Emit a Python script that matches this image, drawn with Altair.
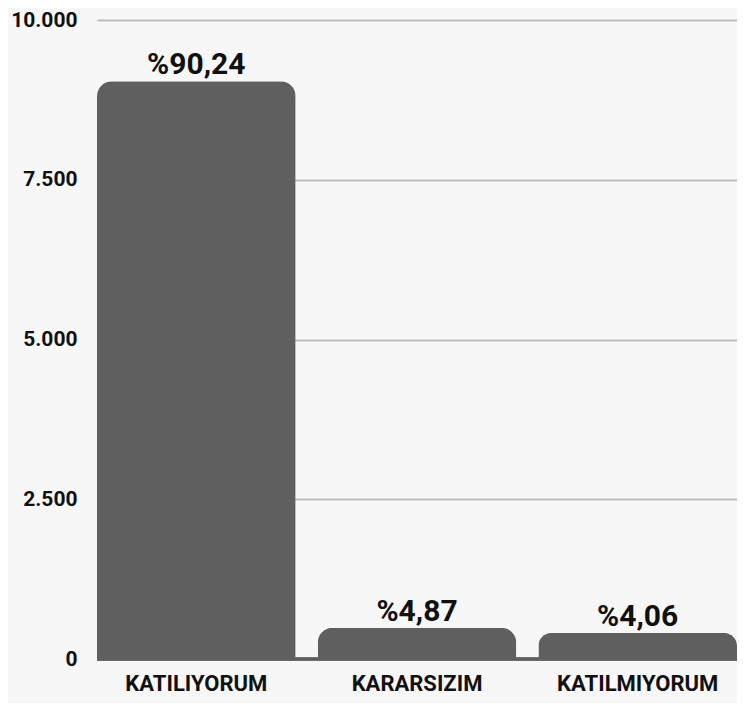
import altair as alt
import pandas as pd

categories = ["KATILIYORUM", "KARARSIZIM", "KATILMIYORUM"]
counts = [9042, 488, 407]
labels = ["%90,24", "%4,87", "%4,06"]

df = pd.DataFrame({"cat": categories, "n": counts, "lab": labels})

FONT = "Roboto"

x = alt.X("cat:N", sort=categories, title=None,
          scale=alt.Scale(paddingInner=0.1, paddingOuter=0),
          axis=alt.Axis(labelAngle=0, labelFont=FONT, labelFontWeight="bold",
                        labelFontSize=22, labelColor="#111111", labelPadding=14,
                        domain=False, ticks=False, grid=False))
y = alt.Y("n:Q", title=None,
          scale=alt.Scale(domain=[0, 10000], nice=False),
          axis=alt.Axis(values=[0, 2500, 5000, 7500, 10000],
                        labelExpr="replace(format(datum.value, ',d'), ',', '.')",
                        labelFont=FONT, labelFontWeight="bold", labelFontSize=21,
                        labelColor="#111111", labelPadding=20,
                        domain=False, ticks=False,
                        gridColor="#bcbcbc", gridWidth=2))

bars = alt.Chart(df).mark_bar(color="#5f5f5f", cornerRadiusTopLeft=15,
                              cornerRadiusTopRight=15).encode(x=x, y=y)

text = alt.Chart(df).mark_text(font=FONT, fontWeight="bold", fontSize=30,
                               color="#111111", baseline="bottom", dy=-1).encode(
    x=alt.X("cat:N", sort=categories),
    y=alt.Y("n:Q"),
    text="lab:N")

base = alt.Chart(df).mark_rule(color="#5f5f5f", strokeWidth=3).encode(
    y=alt.datum(0), x=alt.value(0), x2=alt.value(640))

chart = alt.layer(bars, base, text).properties(
    width=640, height=639,
    autosize=alt.AutoSizeParams(type="none"),
    padding={"left": 89, "top": 12, "right": 0, "bottom": 44},
    background="#f7f7f7",
).configure_view(stroke=None)

chart.save("out.html", embed_options={"renderer": "svg", "actions": False})
